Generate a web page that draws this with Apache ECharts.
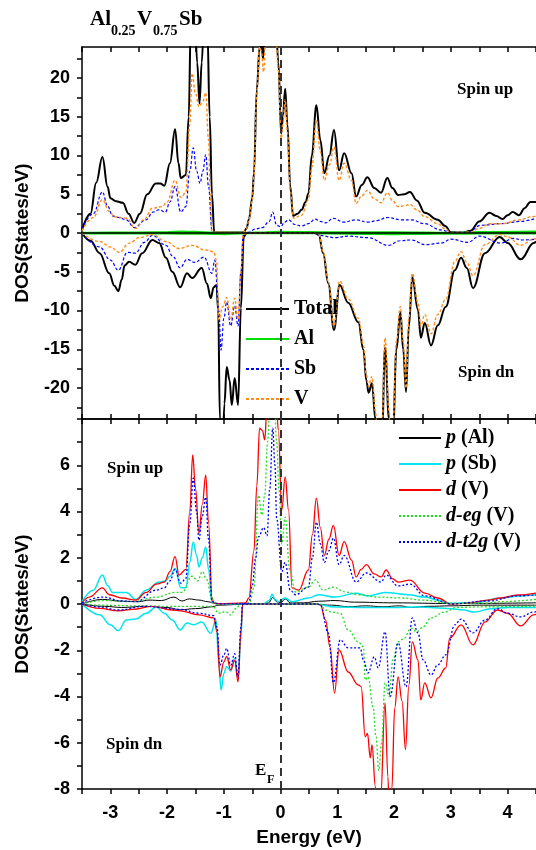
<!DOCTYPE html>
<html>
<head>
<meta charset="utf-8">
<script src="https://cdn.jsdelivr.net/npm/echarts@6/dist/echarts.min.js"></script>
<style>
html,body{margin:0;padding:0;background:#fff;}
#main{width:536px;height:850px;}
</style>
</head>
<body>
<div id="main"></div>
<script>
// ---- data (energy in eV, DOS in states/eV) ----
// top panel: total and atom resolved
var totalUp = [[-3.5,0.4],[-3.35,2.5],[-3.25,6.5],[-3.14,9.8],[-3.05,6],[-3.0,4.5],[-2.9,4.1],[-2.78,3.9],[-2.68,2.5],[-2.58,1.3],[-2.48,2.5],[-2.35,5.0],[-2.2,6.4],[-2.12,6.4],[-2.05,6.1],[-1.95,9],[-1.86,13.4],[-1.8,9],[-1.76,7.1],[-1.67,7.5],[-1.62,15],[-1.58,28],[-1.52,30],[-1.47,22],[-1.43,16.7],[-1.39,22],[-1.34,30],[-1.29,26],[-1.25,15],[-1.21,5],[-1.17,0.1],[-1.1,0.05],[-0.7,0.05],[-0.65,0.1],[-0.6,0.6],[-0.56,1.7],[-0.5,4.5],[-0.47,7.7],[-0.42,18.5],[-0.37,24],[-0.34,24.5],[-0.31,22.5],[-0.27,27],[-0.2,30],[-0.1,30],[-0.04,22],[0.01,12.8],[0.04,15],[0.08,18.6],[0.12,14],[0.17,6],[0.22,2.2],[0.3,2.5],[0.37,3.0],[0.44,4],[0.49,5.1],[0.55,10],[0.63,16.5],[0.7,12],[0.77,7.7],[0.86,10],[0.94,13.3],[1.03,8.1],[1.12,10.3],[1.25,7.7],[1.33,4.7],[1.43,6.2],[1.53,7.2],[1.65,5.8],[1.77,5.2],[1.88,7.1],[1.97,5.8],[2.07,4.9],[2.18,5.0],[2.28,5.3],[2.4,4.2],[2.54,2.6],[2.77,1.7],[2.9,0.9],[3.0,0.1],[3.2,0.05],[3.35,0.3],[3.5,1.5],[3.68,2.6],[3.8,2.2],[3.91,1.8],[4.0,2.3],[4.09,2.7],[4.2,2.3],[4.3,3.2],[4.4,4.0],[4.5,4.0]];
var totalDn = [[-3.5,0],[-3.35,-1.0],[-3.19,-2.6],[-3.02,-5.2],[-2.93,-6.8],[-2.86,-7.5],[-2.8,-6],[-2.75,-4.2],[-2.67,-3.7],[-2.56,-4.1],[-2.44,-2.6],[-2.26,-0.9],[-2.14,-1.3],[-2.02,-3.2],[-1.91,-5.0],[-1.77,-7.0],[-1.65,-5.2],[-1.56,-5.8],[-1.39,-4.5],[-1.3,-6.5],[-1.23,-8.4],[-1.18,-7],[-1.13,-6.7],[-1.1,-10],[-1.07,-24],[-1.03,-30],[-0.99,-22],[-0.95,-17.3],[-0.9,-19],[-0.86,-22.2],[-0.81,-18.7],[-0.75,-22.2],[-0.7,-9.7],[-0.65,-0.5],[-0.6,0],[0.6,0],[0.67,-0.2],[0.75,-2.6],[0.84,-6.5],[0.94,-12.5],[1.04,-6.7],[1.19,-9],[1.37,-11.5],[1.46,-15.1],[1.51,-19],[1.55,-20.6],[1.61,-19.4],[1.67,-24],[1.72,-30],[1.78,-28],[1.84,-14.8],[1.91,-24],[1.94,-30],[1.98,-26],[2.04,-15],[2.11,-10.2],[2.16,-15],[2.21,-20.5],[2.26,-12],[2.32,-5.7],[2.42,-9.9],[2.47,-13.5],[2.54,-11.6],[2.65,-14.5],[2.77,-11.9],[2.91,-9.5],[3.07,-4.8],[3.18,-3.2],[3.28,-4.5],[3.39,-7.1],[3.6,-2.6],[3.86,-0.5],[4.0,-1.3],[4.23,-3.4],[4.46,-1.3],[4.5,-1.1]];
var alUp = [[-3.5,0.03],[-3,0.08],[-2.5,0.08],[-2,0.1],[-1.75,0.2],[-1.5,0.15],[-1.2,0.05],[-1.1,0.02],[-0.6,0.02],[-0.3,0.08],[0,0.15],[0.5,0.12],[1,0.1],[2,0.1],[3,0.03],[3.5,0.12],[4.5,0.18]];
var alDn = [[-3.5,-0.03],[-3,-0.08],[-2,-0.08],[-1.5,-0.1],[-1.2,-0.12],[-1,-0.15],[-0.7,-0.05],[-0.6,-0.02],[0.6,-0.02],[0.8,-0.08],[1.5,-0.12],[2,-0.15],[2.5,-0.12],[3,-0.1],[3.5,-0.08],[4.5,-0.08]];
var sbUp = [[-3.5,0.5],[-3.3,2.5],[-3.14,5.3],[-3.05,3.5],[-2.96,2.2],[-2.85,2.0],[-2.72,1.7],[-2.58,0.7],[-2.37,1.7],[-2.25,2.7],[-2.14,3.0],[-2.03,2.7],[-1.95,4],[-1.86,6.0],[-1.76,2.7],[-1.67,3.4],[-1.6,8],[-1.54,11.0],[-1.48,8],[-1.42,6.4],[-1.37,8],[-1.32,10.1],[-1.27,6],[-1.21,0.3],[-1.15,0.05],[-0.6,0.05],[-0.56,0.1],[-0.45,0.5],[-0.32,0.7],[-0.2,1.5],[-0.14,2.7],[-0.07,1.0],[0.0,0.8],[0.07,1.4],[0.14,1.7],[0.25,1.1],[0.37,0.9],[0.49,1.2],[0.61,1.8],[0.7,1.5],[0.79,1.3],[0.93,1.9],[1.11,1.4],[1.32,1.7],[1.54,1.4],[1.7,1.6],[1.88,2.0],[2.12,1.7],[2.3,1.7],[2.54,1.2],[2.82,0.4],[3.0,0.1],[3.3,0.1],[3.53,1.0],[3.88,1.2],[4.23,1.5],[4.5,1.9]];
var sbDn = [[-3.5,0],[-3.19,-1.8],[-3.0,-3.5],[-2.86,-4.8],[-2.7,-2.5],[-2.56,-2.6],[-2.4,-1.2],[-2.26,-0.3],[-2.02,-1.6],[-1.9,-3.0],[-1.77,-4.5],[-1.65,-3.4],[-1.51,-3.8],[-1.35,-3.1],[-1.21,-5.2],[-1.16,-3.5],[-1.09,-10],[-1.05,-15.1],[-1.0,-11],[-0.95,-8.9],[-0.88,-12],[-0.81,-9.4],[-0.75,-12],[-0.7,-5],[-0.66,-0.3],[-0.6,0],[0.6,0],[0.67,-0.3],[0.96,-0.6],[1.2,-0.4],[1.54,-0.6],[1.9,-1.6],[2.1,-1.0],[2.3,-0.9],[2.55,-1.5],[2.83,-1.3],[3.0,-0.8],[3.3,-1.2],[3.5,-0.4],[3.88,-1.3],[4.1,-0.7],[4.26,-0.9],[4.5,-0.8]];
var vUp = [[-3.5,0.3],[-3.3,2.0],[-3.14,4.3],[-3.02,2.8],[-2.93,2.1],[-2.72,1.9],[-2.55,0.6],[-2.4,1.8],[-2.26,3.2],[-2.09,3.4],[-2.0,4.0],[-1.86,6.8],[-1.76,4.6],[-1.67,5.2],[-1.6,14],[-1.56,20.6],[-1.5,18],[-1.44,16.3],[-1.37,17],[-1.32,18.1],[-1.27,12],[-1.24,5],[-1.21,0.1],[-0.7,0.05],[-0.65,0.1],[-0.6,0.6],[-0.56,1.6],[-0.5,4.3],[-0.47,7.5],[-0.42,18],[-0.37,24],[-0.34,23.5],[-0.3,20.8],[-0.26,26],[-0.2,29],[-0.1,29],[-0.04,21],[0.01,12.2],[0.04,14],[0.08,17.2],[0.12,13],[0.17,5.5],[0.23,1.9],[0.37,2.3],[0.49,4.3],[0.55,8.5],[0.63,14.6],[0.7,10.5],[0.77,6.8],[0.86,8.8],[0.94,11.1],[1.03,6.8],[1.12,9.0],[1.25,6.8],[1.33,3.8],[1.43,4.8],[1.53,5.5],[1.65,4.4],[1.77,3.9],[1.88,5.2],[1.97,4.2],[2.07,3.4],[2.18,3.5],[2.28,3.7],[2.4,3.0],[2.54,2.1],[2.77,1.2],[2.9,0.5],[3.0,0.05],[3.35,0.1],[3.5,0.6],[3.68,1.2],[3.91,1.2],[4.2,1.7],[4.44,2.1],[4.5,2.2]];
var vDn = [[-3.5,0],[-3.19,-1.1],[-3.0,-1.8],[-2.84,-2.5],[-2.67,-1.3],[-2.49,-0.6],[-2.26,-0.2],[-2.02,-1.1],[-1.79,-2.0],[-1.56,-1.6],[-1.32,-2.2],[-1.18,-2.4],[-1.13,-3.5],[-1.09,-11.2],[-1.02,-9.5],[-0.95,-8.3],[-0.88,-11.2],[-0.81,-8.4],[-0.75,-11.2],[-0.7,-5],[-0.66,-0.3],[-0.6,0],[0.6,0],[0.67,-0.2],[0.75,-2.4],[0.84,-6.2],[0.94,-12],[1.04,-6.2],[1.19,-8.5],[1.37,-11],[1.46,-14.5],[1.51,-18.3],[1.55,-19.8],[1.61,-18.5],[1.67,-23],[1.72,-29],[1.78,-27],[1.84,-13.5],[1.91,-23],[1.94,-29],[1.98,-25],[2.04,-14],[2.11,-9.5],[2.16,-14],[2.21,-20],[2.26,-11],[2.32,-5.2],[2.42,-9],[2.47,-12],[2.54,-10.5],[2.65,-13],[2.77,-10.5],[2.91,-8.5],[3.07,-3.7],[3.18,-2.4],[3.28,-3.8],[3.39,-5.5],[3.6,-1.5],[3.86,-0.2],[4.0,-0.5],[4.23,-1.6],[4.46,-0.8],[4.5,-0.7]];

// bottom panel: orbital resolved
var pAlUp = [[-3.5,0],[-3.14,0.2],[-2.8,0.12],[-2.5,0.1],[-2.32,0.17],[-2.1,0.15],[-1.88,0.3],[-1.74,0.13],[-1.61,0.22],[-1.44,0.17],[-1.28,0.1],[-1.18,0.05],[-1.1,0.01],[-0.3,0.01],[-0.21,0.05],[-0.14,0.28],[-0.07,0.1],[0.0,0.05],[0.08,0.22],[0.17,0.05],[0.4,0.05],[0.67,0.12],[0.96,0.15],[1.3,0.08],[2,0.05],[3,0.02],[4.5,0.05]];
var pAlDn = [[-3.5,0],[-3.1,-0.1],[-2.8,-0.15],[-2.4,-0.1],[-2,-0.15],[-1.77,-0.25],[-1.5,-0.2],[-1.2,-0.12],[-1.1,-0.05],[-0.7,-0.02],[0.6,-0.02],[0.9,-0.05],[1.2,-0.12],[1.5,-0.08],[1.8,-0.12],[2.1,-0.08],[2.3,-0.15],[2.6,-0.1],[3,-0.08],[3.5,-0.05],[4.5,-0.05]];
var pSbUp = [[-3.5,0.1],[-3.3,0.6],[-3.14,1.25],[-3.05,0.8],[-2.96,0.5],[-2.72,0.5],[-2.55,0.2],[-2.37,0.6],[-2.14,0.95],[-2.03,1.0],[-1.95,1.2],[-1.86,1.55],[-1.76,0.7],[-1.67,0.7],[-1.6,1.8],[-1.54,2.68],[-1.48,2.1],[-1.44,1.6],[-1.38,2.0],[-1.32,2.46],[-1.27,1.5],[-1.21,0.05],[-1.1,0.01],[-0.3,0.01],[-0.2,0.15],[-0.15,0.42],[-0.1,0.2],[-0.04,0.1],[0.08,0.26],[0.2,0.1],[0.49,0.26],[0.67,0.4],[0.96,0.3],[1.32,0.47],[1.54,0.35],[1.84,0.5],[2.25,0.4],[2.54,0.3],[2.8,0.15],[3.0,0.03],[3.4,0.05],[3.88,0.26],[4.23,0.35],[4.5,0.4]];
var pSbDn = [[-3.5,0],[-3.19,-0.47],[-3.0,-0.9],[-2.86,-1.15],[-2.72,-0.69],[-2.55,-0.65],[-2.37,-0.4],[-2.19,-0.13],[-2.05,-0.4],[-1.91,-0.69],[-1.77,-1.12],[-1.65,-0.82],[-1.53,-0.9],[-1.39,-0.78],[-1.23,-1.27],[-1.14,-0.69],[-1.09,-2.5],[-1.05,-3.72],[-1.0,-3.0],[-0.95,-2.7],[-0.88,-2.9],[-0.81,-2.35],[-0.75,-3.2],[-0.7,-1.5],[-0.67,0],[0.6,0],[0.96,-0.13],[1.5,-0.15],[2.0,-0.15],[2.42,-0.13],[3.0,-0.2],[3.2,-0.25],[3.42,-0.35],[3.7,-0.2],[4.0,-0.15],[4.5,-0.15]];
var dUp = [[-3.5,0.05],[-3.37,0.3],[-3.14,0.7],[-3.02,0.4],[-2.79,0.26],[-2.55,0.17],[-2.37,0.5],[-2.19,0.86],[-2.05,0.95],[-1.95,1.4],[-1.86,2.05],[-1.79,1.25],[-1.67,1.5],[-1.6,4.0],[-1.55,6.45],[-1.5,5.0],[-1.44,3.05],[-1.38,4.3],[-1.32,5.58],[-1.27,3.5],[-1.21,0.3],[-1.18,0.04],[-1.1,0.01],[-0.62,0.05],[-0.56,0.26],[-0.47,2.3],[-0.42,5.1],[-0.37,7.6],[-0.32,7.5],[-0.28,7.1],[-0.24,8.5],[-0.15,9.5],[-0.08,9],[-0.04,7.5],[0.02,4.06],[0.08,5.5],[0.14,4.06],[0.2,0.7],[0.32,0.6],[0.49,1.47],[0.56,3],[0.63,4.58],[0.7,3.3],[0.77,2.1],[0.85,2.8],[0.93,3.4],[1.03,2.1],[1.12,2.7],[1.25,1.9],[1.33,1.17],[1.42,1.5],[1.51,1.7],[1.65,1.3],[1.77,1.17],[1.86,1.47],[1.97,1.1],[2.07,0.95],[2.28,1.03],[2.54,0.47],[2.77,0.26],[3.0,0],[3.3,0.04],[3.65,0.17],[3.88,0.26],[4.18,0.39],[4.5,0.47]];
var dDn = [[-3.5,0],[-3.19,-0.19],[-2.86,-0.3],[-2.61,-0.23],[-2.26,-0.1],[-1.91,-0.26],[-1.77,-0.3],[-1.44,-0.47],[-1.18,-0.6],[-1.12,-1.2],[-1.07,-3.15],[-1.0,-2.5],[-0.95,-2.27],[-0.88,-2.85],[-0.81,-2.44],[-0.75,-3.37],[-0.7,-1.2],[-0.67,0],[0.65,0],[0.7,-0.04],[0.79,-0.69],[0.87,-1.85],[0.95,-3.85],[1.03,-1.99],[1.19,-2.94],[1.37,-3.5],[1.42,-3.58],[1.49,-5.74],[1.53,-5.6],[1.58,-6.65],[1.61,-6.09],[1.67,-7.9],[1.71,-9.5],[1.76,-8.5],[1.84,-4.28],[1.89,-7.47],[1.92,-9.5],[1.96,-8],[2.01,-4.5],[2.07,-3.15],[2.14,-4.2],[2.2,-6.3],[2.26,-3.5],[2.32,-1.64],[2.42,-2.42],[2.47,-4.15],[2.54,-3.41],[2.65,-4.06],[2.77,-3.2],[2.91,-2.76],[2.98,-1.47],[3.18,-0.9],[3.39,-1.77],[3.6,-0.78],[3.82,-0.26],[4.0,-0.4],[4.23,-0.95],[4.46,-0.47],[4.5,-0.45]];
var egUp = [[-3.5,0],[-3.14,0.15],[-2.6,0.1],[-2.19,0.3],[-1.86,0.5],[-1.74,0.5],[-1.56,1.2],[-1.46,1.0],[-1.38,1.4],[-1.3,1.05],[-1.22,0.3],[-1.18,0],[-1.1,0.0],[-0.55,0.03],[-0.47,0.7],[-0.39,4.7],[-0.33,3.85],[-0.28,4.7],[-0.23,7],[-0.18,9.5],[-0.12,9.5],[-0.07,7],[-0.03,5],[0.02,2.6],[0.08,3.76],[0.16,1.47],[0.26,0.52],[0.49,0.73],[0.61,1.04],[0.75,0.6],[0.93,0.73],[1.14,0.52],[1.37,0.4],[1.72,0.3],[2.14,0.26],[2.49,0.17],[3.0,0.03],[3.65,0.04],[3.88,0.1],[4.5,0.2]];
var egDn = [[-3.5,0],[-3.19,-0.05],[-2.5,-0.08],[-2,-0.1],[-1.5,-0.1],[-1.2,-0.1],[-1.09,-0.4],[-0.97,-0.33],[-0.88,-0.47],[-0.79,-0.2],[-0.7,0],[0.7,0],[0.79,-0.26],[0.9,-0.35],[1.05,-0.4],[1.19,-1.12],[1.37,-1.64],[1.46,-1.85],[1.49,-3.28],[1.54,-3.15],[1.63,-4.45],[1.68,-5.74],[1.73,-7.2],[1.78,-6],[1.84,-3.41],[1.91,-4.0],[1.98,-2.42],[2.07,-1.64],[2.17,-1.5],[2.3,-1.04],[2.4,-1.2],[2.51,-0.99],[2.65,-0.6],[2.89,-0.35],[3.1,-0.15],[3.6,-0.12],[4.5,-0.1]];
var t2gUp = [[-3.5,0.05],[-3.14,0.3],[-2.79,0.13],[-2.55,0.1],[-2.19,0.6],[-2.05,0.7],[-1.95,1.0],[-1.86,1.5],[-1.76,0.9],[-1.67,1.1],[-1.6,3.5],[-1.54,5.44],[-1.48,4.0],[-1.44,2.76],[-1.38,3.8],[-1.32,4.62],[-1.27,2.8],[-1.21,0.1],[-1.1,0.01],[-0.6,0.02],[-0.56,0.04],[-0.5,0.8],[-0.44,2.0],[-0.39,2.9],[-0.3,3.3],[-0.24,2.95],[-0.19,5],[-0.14,7.6],[-0.1,6],[-0.07,3.7],[0.02,1.4],[0.08,1.8],[0.17,0.6],[0.26,0.4],[0.49,0.73],[0.56,2],[0.63,3.54],[0.7,2.6],[0.77,1.8],[0.85,2.3],[0.93,2.85],[1.03,1.7],[1.12,2.1],[1.33,0.95],[1.51,1.34],[1.77,0.95],[1.86,1.25],[2.07,0.78],[2.28,0.86],[2.54,0.35],[3.0,0],[3.65,0.13],[4.18,0.35],[4.5,0.39]];
var t2gDn = [[-3.5,0],[-3.19,-0.13],[-2.86,-0.26],[-2.4,-0.1],[-1.77,-0.23],[-1.44,-0.4],[-1.18,-0.5],[-1.12,-1.0],[-1.07,-2.65],[-1.0,-2.2],[-0.95,-1.92],[-0.88,-2.65],[-0.81,-2.15],[-0.75,-3.15],[-0.7,-1.0],[-0.67,0],[0.65,0],[0.7,-0.04],[0.84,-1.25],[0.93,-3.4],[1.05,-1.55],[1.19,-1.9],[1.4,-1.9],[1.46,-2.42],[1.54,-2.98],[1.65,-2.29],[1.72,-2.76],[1.84,-1.2],[1.93,-4.0],[2.07,-1.68],[2.21,-3.58],[2.32,-0.6],[2.42,-1.25],[2.51,-2.42],[2.65,-3.07],[2.77,-2.63],[2.91,-2.2],[3.07,-0.9],[3.18,-0.65],[3.39,-1.25],[3.6,-0.7],[3.82,-0.2],[4.0,-0.4],[4.23,-0.56],[4.46,-0.35],[4.5,-0.33]];

// ticks
var xTickLabels = [-3,-2,-1,0,1,2,3,4];
var xTicks = [-3.5,-3,-2.5,-2,-1.5,-1,-0.5,0,0.5,1,1.5,2,2.5,3,3.5,4,4.5];
var topYLabels = [-20,-15,-10,-5,0,5,10,15,20];
var topYTicks = [-22.5,-20,-17.5,-15,-12.5,-10,-7.5,-5,-2.5,0,2.5,5,7.5,10,12.5,15,17.5,20,22.5];
var botYLabels = [-8,-6,-4,-2,0,2,4,6];
var botYTicks = [-8,-7,-6,-5,-4,-3,-2,-1,0,1,2,3,4,5,6,7,8];

var sans = 'Liberation Sans';
var serif = 'Liberation Serif';

var myChart = echarts.init(document.getElementById('main'));

function xAx(grid, pos, showLabel, inside) {
    var ax = {
        type: 'value', gridIndex: grid, position: pos, min: -3.5, max: 4.5,
        axisLine: {show: true, onZero: false, lineStyle: {color: '#000', width: 1.5}},
        axisTick: {show: true, inside: inside, length: 5, customValues: xTicks, lineStyle: {color: '#000', width: 1.5}},
        axisLabel: {show: showLabel, customValues: xTickLabels, margin: 15,
            fontFamily: sans, fontWeight: 'bold', fontSize: 18, color: '#000'},
        splitLine: {show: false}
    };
    return ax;
}

function yAx(grid, min, max, labels, ticks) {
    return {
        type: 'value', gridIndex: grid, min: min, max: max,
        name: 'DOS(States/eV)', nameLocation: 'middle', nameGap: 50,
        nameTextStyle: {fontFamily: sans, fontWeight: 'bold', fontSize: 19, color: '#000'},
        axisLine: {show: true, onZero: false, lineStyle: {color: '#000', width: 1.5}},
        axisTick: {show: true, length: 5, customValues: ticks, lineStyle: {color: '#000', width: 1.5}},
        axisLabel: {customValues: labels, margin: 12,
            fontFamily: sans, fontWeight: 'bold', fontSize: 18, color: '#000'},
        splitLine: {show: false}
    };
}

var efLine = {
    silent: true, symbol: ['none', 'none'], animation: false,
    label: {show: false},
    lineStyle: {color: '#333', type: [8, 5], width: 2},
    data: [{xAxis: 0}]
};

function line(name, data, grid, color, width, dash, extra) {
    var s = {
        name: name, type: 'line', data: data,
        xAxisIndex: grid * 2, yAxisIndex: grid,
        symbol: 'none', smooth: 0.4, smoothMonotone: 'x',
        lineStyle: {color: color, width: width, type: dash || 'solid'},
        itemStyle: {color: color}
    };
    if (extra) s.markLine = extra;
    return s;
}

var zeroLine = {
    silent: true, symbol: ['none', 'none'], animation: false,
    label: {show: false},
    lineStyle: {color: '#000', type: 'solid', width: 1.5},
    data: [{yAxis: 0}]
};

var orange = '#ff8c1a';
var dot = [3, 2];

option = {
    animation: false,
    grid: [
        {left: 82, top: 47, right: -2, height: 372},
        {left: 82, top: 419, right: -2, height: 370}
    ],
    xAxis: [
        xAx(0, 'bottom', false, true),
        xAx(0, 'top', false, true),
        (function () {
            var a = xAx(1, 'bottom', true, false);
            a.name = 'Energy (eV)';
            a.nameLocation = 'middle';
            a.nameGap = 39;
            a.nameTextStyle = {fontFamily: sans, fontWeight: 'bold', fontSize: 19, color: '#000'};
            return a;
        })(),
        xAx(1, 'top', false, true)
    ],
    yAxis: [
        yAx(0, -24, 24, topYLabels, topYTicks),
        yAx(1, -8, 8, botYLabels, botYTicks)
    ],
    legend: [
        {
            data: ['Total', 'Al', 'Sb', 'V'],
            orient: 'vertical', left: 240, top: 294,
            itemWidth: 43, itemHeight: 14, itemGap: 10,
            itemStyle: {opacity: 0},
            textStyle: {fontFamily: serif, fontWeight: 'bold', fontSize: 20, color: '#000', lineHeight: 20}
        },
        {
            data: ['p (Al)', 'p (Sb)', 'd (V)', 'd-eg (V)', 'd-t2g (V)'],
            orient: 'vertical', left: 393, top: 423,
            itemWidth: 42, itemHeight: 14, itemGap: 6,
            itemStyle: {opacity: 0},
            formatter: function (name) {
                var i = name.indexOf(' ');
                return '{i|' + name.slice(0, i) + '} {b|' + name.slice(i + 1) + '}';
            },
            textStyle: {
                fontFamily: serif, fontWeight: 'bold', fontSize: 20, color: '#000', lineHeight: 20,
                rich: {
                    i: {fontFamily: serif, fontStyle: 'italic', fontWeight: 'bold', fontSize: 20, color: '#000'},
                    b: {fontFamily: serif, fontWeight: 'bold', fontSize: 20, color: '#000'}
                }
            }
        }
    ],
    series: [
        line('Total', totalUp, 0, '#000', 2, null, zeroLine),
        line('Total', totalDn, 0, '#000', 2, null, efLine),
        line('Al', alUp, 0, '#00e000', 2),
        line('Al', alDn, 0, '#00e000', 2),
        line('Sb', sbUp, 0, '#0000ff', 1.2, dot),
        line('Sb', sbDn, 0, '#0000ff', 1.2, dot),
        line('V', vUp, 0, orange, 1.4, dot),
        line('V', vDn, 0, orange, 1.4, dot),

        line('p (Al)', pAlUp, 1, '#000', 1),
        line('p (Al)', pAlDn, 1, '#000', 1, null, efLine),
        line('p (Sb)', pSbUp, 1, '#00e5ee', 1.5),
        line('p (Sb)', pSbDn, 1, '#00e5ee', 1.5),
        line('d (V)', dUp, 1, '#ff0000', 1.3),
        line('d (V)', dDn, 1, '#ff0000', 1.3),
        line('d-eg (V)', egUp, 1, '#22dd22', 1.3, [2, 2]),
        line('d-eg (V)', egDn, 1, '#22dd22', 1.3, [2, 2]),
        line('d-t2g (V)', t2gUp, 1, '#0000ee', 1.3, [2, 2]),
        line('d-t2g (V)', t2gDn, 1, '#0000ee', 1.3, [2, 2])
    ],
    graphic: [
        {type: 'text', left: 90, top: 9, style: {text: 'Al', font: 'bold 21px "Liberation Serif"', fill: '#000'}},
        {type: 'text', left: 111, top: 24, style: {text: '0.25', font: 'bold 14px "Liberation Serif"', fill: '#000'}},
        {type: 'text', left: 137, top: 9, style: {text: 'V', font: 'bold 21px "Liberation Serif"', fill: '#000'}},
        {type: 'text', left: 153, top: 24, style: {text: '0.75', font: 'bold 14px "Liberation Serif"', fill: '#000'}},
        {type: 'text', left: 179, top: 9, style: {text: 'Sb', font: 'bold 21px "Liberation Serif"', fill: '#000'}},

        {type: 'text', left: 457, top: 81, style: {text: 'Spin up', font: 'bold 17px "Liberation Serif"', fill: '#000'}},
        {type: 'text', left: 458, top: 364, style: {text: 'Spin dn', font: 'bold 17px "Liberation Serif"', fill: '#000'}},
        {type: 'text', left: 107, top: 460, style: {text: 'Spin up', font: 'bold 17px "Liberation Serif"', fill: '#000'}},
        {type: 'text', left: 106, top: 736, style: {text: 'Spin dn', font: 'bold 17px "Liberation Serif"', fill: '#000'}},

        {type: 'text', left: 255, top: 762, style: {text: 'E', font: 'bold 17px "Liberation Serif"', fill: '#000'}},
        {type: 'text', left: 267, top: 774, style: {text: 'F', font: 'bold 12px "Liberation Serif"', fill: '#000'}}
    ]
};

myChart.setOption(option);
</script>
</body>
</html>
